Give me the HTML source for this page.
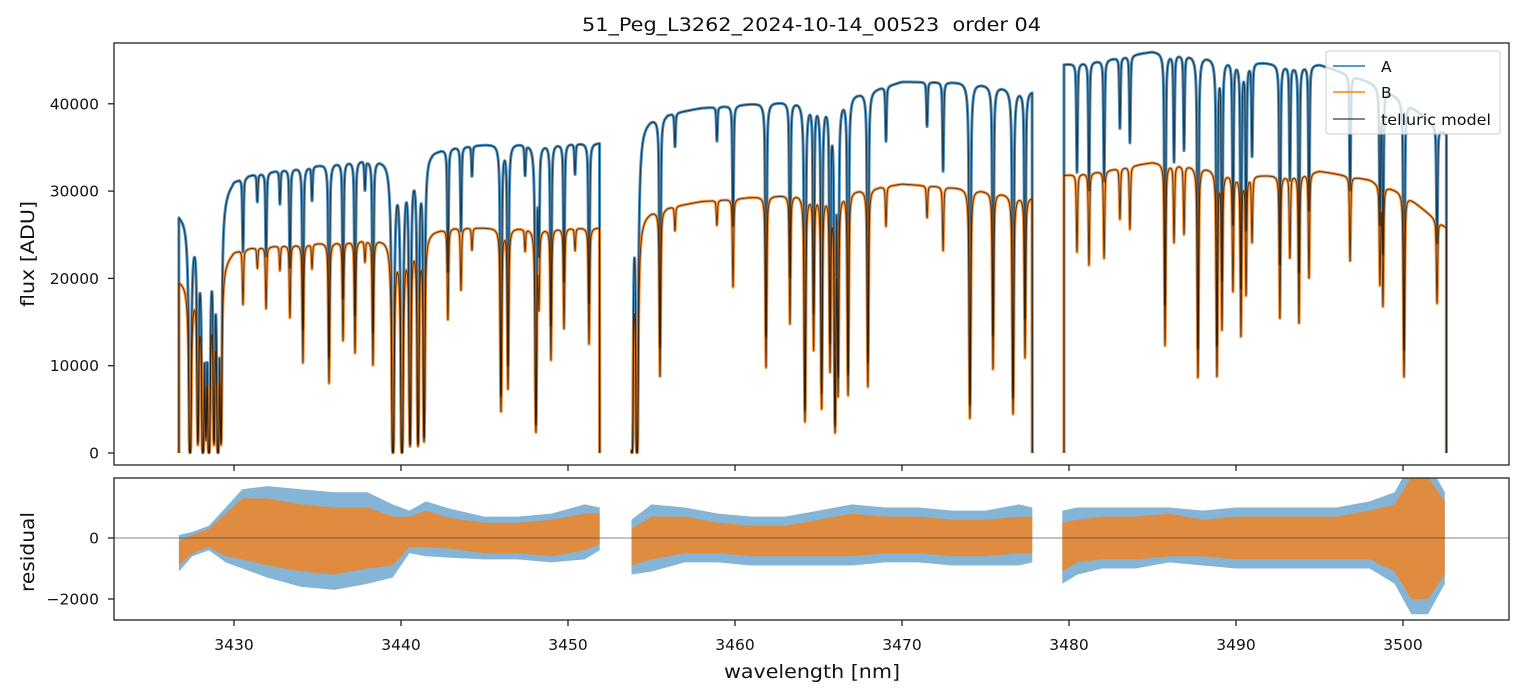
<!DOCTYPE html>
<html><head><meta charset="utf-8"><style>
body{margin:0;background:#fff;}
svg{display:block;font-family:"DejaVu Sans","Liberation Sans",sans-serif;}
</style></head><body>
<svg id="chart" width="1523" height="696" viewBox="0 0 1523 696">
<text x="811.5" y="31" text-anchor="middle" font-size="19" textLength="459" lengthAdjust="spacingAndGlyphs" fill="#111" style="white-space:pre">51_Peg_L3262_2024-10-14_00523  order 04</text>
<defs>
<clipPath id="clipTop"><rect x="114" y="43" width="1395" height="422"/></clipPath>
<clipPath id="clipBot"><rect x="114" y="478" width="1395" height="142"/></clipPath>
</defs>
<g id="topG" clip-path="url(#clipTop)"></g>
<g id="botG" clip-path="url(#clipBot)"></g>
<g id="axesG"></g>
<text transform="translate(34,254) rotate(-90)" text-anchor="middle" font-size="19" textLength="106" lengthAdjust="spacingAndGlyphs" fill="#111">flux [ADU]</text>
<text transform="translate(34,552) rotate(-90)" text-anchor="middle" font-size="19" textLength="80" lengthAdjust="spacingAndGlyphs" fill="#111">residual</text>
<text x="812" y="678" text-anchor="middle" font-size="19" textLength="176" lengthAdjust="spacingAndGlyphs" fill="#111">wavelength [nm]</text>
<g>
<rect x="1326" y="51" width="174" height="83" rx="3" fill="#fff" fill-opacity="0.8" stroke="#ccc"/>
<line x1="1333" y1="66" x2="1365" y2="66" stroke="#1f77b4" stroke-width="1.5"/>
<text x="1381" y="72" font-size="15.5" fill="#111">A</text>
<line x1="1333" y1="92" x2="1365" y2="92" stroke="#ff7f0e" stroke-width="1.5"/>
<text x="1381" y="98" font-size="15.5" fill="#111">B</text>
<line x1="1333" y1="119" x2="1365" y2="119" stroke="#333" stroke-opacity="0.8" stroke-width="1.5"/>
<text x="1381" y="125" font-size="15.5" textLength="110" lengthAdjust="spacingAndGlyphs" fill="#111">telluric model</text>
</g>
</svg>
<script>
// ---- data ----
const segStart = [3426.7, 3453.8, 3479.7];
const segEnd = [3451.9, 3477.8, 3502.6];
const contW = [3426.7,3427.5,3430,3433,3437,3440,3443,3446,3451.9, 3453.8,3455,3458,3461,3465,3468,3470,3474,3477.8, 3479.7,3482,3485,3488,3490,3493,3495,3498,3500,3502.6];
const contA = [27500,27000,31500,32500,33500,34000,35000,35500,35500, 37500,38500,39500,40000,40500,41500,42500,42500,41500, 44500,45000,46000,45500,45000,44500,44500,42500,40500,36500];
const contB = [19900,19700,23300,23800,24300,24800,25800,25800,25800, 26800,27800,28800,29300,29800,30300,30800,30300,29300, 31800,32300,33300,32800,31800,31800,32300,31300,29800,25800];
const lineW = [3427.37,3427.84,3428.14,3428.32,3428.5,3428.8,3429.04,3429.22,3430.54,3431.4,3431.92,3432.75,3433.35,3434.13,3434.67,3435.69,3436.53,3437.25,3437.84,3438.32,3439.52,3440.06,3440.54,3441.02,3441.38,3442.81,3443.59,3444.25,3445.99,3446.41,3447.43,3448.08,3448.26,3448.98,3449.76,3450.42,3451.26,
 3453.83,3454.13,3455.51,3456.41,3458.92,3459.88,3461.86,3463.29,3464.19,3464.71,3465.19,3465.69,3465.99,3466.17,3466.77,3467.96,3469.04,3471.5,3472.46,3474.07,3475.45,3476.65,3477.37,
 3480.48,3481.2,3482.1,3483.05,3483.65,3485.75,3486.29,3486.89,3487.72,3488.86,3489.16,3489.82,3490.3,3490.6,3490.96,3492.63,3493.23,3493.77,3494.37,3496.83,3498.62,3498.8,3500.06,3502.04];
const lineD = [1.0,0.95,1.0,0.9,1.0,0.95,1.0,0.95,0.27,0.1,0.3,0.12,0.35,0.57,0.12,0.67,0.47,0.53,0.1,0.59,1.0,1.0,0.97,0.97,0.95,0.41,0.28,0.1,0.82,0.72,0.1,0.91,0.33,0.59,0.45,0.1,0.52,
 1.0,1.0,0.69,0.1,0.1,0.35,0.67,0.5,0.88,0.6,0.83,0.68,0.92,0.77,0.78,0.75,0.15,0.12,0.24,0.87,0.68,0.85,0.63,
 0.28,0.33,0.31,0.18,0.22,0.63,0.27,0.24,0.74,0.73,0.56,0.42,0.58,0.43,0.24,0.52,0.3,0.54,0.38,0.31,0.37,0.45,0.71,0.36];
const resW = [3426.7,3427.5,3428.5,3429.5,3430.5,3432,3434,3436,3438,3439.5,3440.5,3441.5,3443,3445,3447,3449,3451,3451.9,
 3453.8,3455,3457,3459,3461,3463,3465,3467,3469,3471,3473,3475,3477,3477.8,
 3479.6,3480.5,3482,3484,3486,3488,3490,3492,3494,3496,3498,3499.5,3500.5,3501.5,3502.5];
const resMid = [-500,-200,0,100,300,200,0,-100,0,-100,200,300,150,0,0,0,200,300, -300,0,100,0,-100,-100,0,100,100,100,0,0,100,100, -300,-100,0,0,100,0,0,0,0,0,100,0,0,0,0];
const resAhw = [600,400,400,900,1300,1500,1600,1600,1500,1200,700,900,800,700,700,800,900,700, 900,1100,900,800,800,800,900,1000,900,900,900,900,1000,900, 1200,1100,1000,1000,900,900,1000,1000,1000,1000,1100,1500,2500,2500,1500];
const resBhw = [400,300,300,700,1000,1100,1100,1100,1000,800,500,600,500,500,500,600,600,500, 600,700,600,500,500,500,600,700,600,600,600,600,600,600, 800,700,700,700,700,600,700,700,700,700,800,1100,2000,2000,1200];
const xTicks = [3430,3440,3450,3460,3470,3480,3490,3500];
const yTicksTop = [0,10000,20000,30000,40000];
const yTicksBot = [-2000,0];

// ---- scales ----
const X = w => 234 + (w - 3430) * 16.7;
const YT = v => 453 - v * 0.00873;
const YB = v => 538 - v * 0.0305;
function interp(xs, ys, x){
  if (x <= xs[0]) return ys[0];
  for (let i=1;i<xs.length;i++) if (x <= xs[i]) { const t=(x-xs[i-1])/(xs[i]-xs[i-1]); return ys[i-1]+t*(ys[i]-ys[i-1]); }
  return ys[ys.length-1];
}
function model(w){
  let tau=0;
  for (let i=0;i<lineW.length;i++){
    const d=(w-lineW[i])/0.045;
    if (Math.abs(d)<40){
      const t0 = lineD[i]>=0.99 ? 7 : -Math.log(1-lineD[i]);
      tau += t0*(0.55*Math.exp(-d*d)+0.45/(1+d*d));
    }
  }
  return Math.exp(-tau);
}
const NS='http://www.w3.org/2000/svg';
const topG=document.getElementById('topG'), botG=document.getElementById('botG'), axesG=document.getElementById('axesG');
function mk(tag, attrs, parent){ const e=document.createElementNS(NS,tag); for (const k in attrs) e.setAttribute(k, attrs[k]); parent.appendChild(e); return e; }

function seriesPath(cont){
  let d='';
  for (let s=0;s<segStart.length;s++){
    d += 'M'+X(segStart[s]).toFixed(1)+','+YT(0).toFixed(1);
    for (let w=segStart[s]; w<=segEnd[s]; w+=0.012){
      d += 'L'+X(w).toFixed(1)+','+YT(interp(contW,cont,w)*model(w)).toFixed(1);
    }
    d += 'L'+X(segEnd[s]).toFixed(1)+','+YT(0).toFixed(1);
  }
  return d;
}
let p;
p = mk('path',{d:seriesPath(contA),fill:'none',stroke:'#1f77b4','stroke-width':3,'stroke-opacity':0.8,'stroke-linejoin':'round'},topG);


p = mk('path',{d:seriesPath(contB),fill:'none',stroke:'#ff7f0e','stroke-width':3,'stroke-opacity':0.8,'stroke-linejoin':'round'},topG);


p = mk('path',{d:seriesPath(contA),fill:'none',stroke:'#111','stroke-width':1,'stroke-opacity':0.7},topG);


p = mk('path',{d:seriesPath(contB),fill:'none',stroke:'#111','stroke-width':1,'stroke-opacity':0.7},topG);



// residual bands
function band(hw){
  let d='';
  for (let s=0;s<segStart.length;s++){
    const pts=resW.map((w,i)=>i).filter(i=>resW[i]>=segStart[s]-0.2 && resW[i]<=segEnd[s]+0.2);
    let up='', lo=[];
    pts.forEach((i,k)=>{ up += (k?'L':'M')+X(resW[i]).toFixed(1)+','+YB(resMid[i]+hw[i]).toFixed(1); lo.push('L'+X(resW[i]).toFixed(1)+','+YB(resMid[i]-hw[i]).toFixed(1)); });
    d += up + lo.reverse().join('') + 'Z';
  }
  return d;
}
p = mk('path',{d:band(resAhw),fill:'#1f77b4','fill-opacity':0.55},botG);


p = mk('path',{d:band(resBhw),fill:'#ff7f0e','fill-opacity':0.75},botG);


p = mk('line',{x1:114,x2:1509,y1:YB(0),y2:YB(0),stroke:'#333','stroke-width':0.8,'stroke-opacity':0.8},botG);



// frames and ticks
p = mk('rect',{x:114,y:43,width:1395,height:422,fill:'none',stroke:'#222','stroke-width':1.3},axesG);


p = mk('rect',{x:114,y:478,width:1395,height:142,fill:'none',stroke:'#222','stroke-width':1.3},axesG);


xTicks.forEach(t=>{
  mk('line',{x1:X(t),x2:X(t),y1:465,y2:471,stroke:'#222','stroke-width':1.3},axesG);
  mk('line',{x1:X(t),x2:X(t),y1:620,y2:626,stroke:'#222','stroke-width':1.3},axesG);
  const tx = mk('text',{x:X(t),y:650,'text-anchor':'middle','font-size':15.5,fill:'#111'},axesG);
  tx.textContent=t;
  
  
});
yTicksTop.forEach(t=>{
  mk('line',{x1:108,x2:114,y1:YT(t),y2:YT(t),stroke:'#222','stroke-width':1.3},axesG);
  const tx = mk('text',{x:99,y:YT(t)+5.5,'text-anchor':'end','font-size':15.5,fill:'#111'},axesG);
  tx.textContent=t;
  
  
});
yTicksBot.forEach(t=>{
  mk('line',{x1:108,x2:114,y1:YB(t),y2:YB(t),stroke:'#222','stroke-width':1.3},axesG);
  const tx = mk('text',{x:99,y:YB(t)+5.5,'text-anchor':'end','font-size':15.5,fill:'#111'},axesG);
  tx.textContent=t<0?'\u2212'+(-t):t;
  
  
});
</script>
</body></html>
